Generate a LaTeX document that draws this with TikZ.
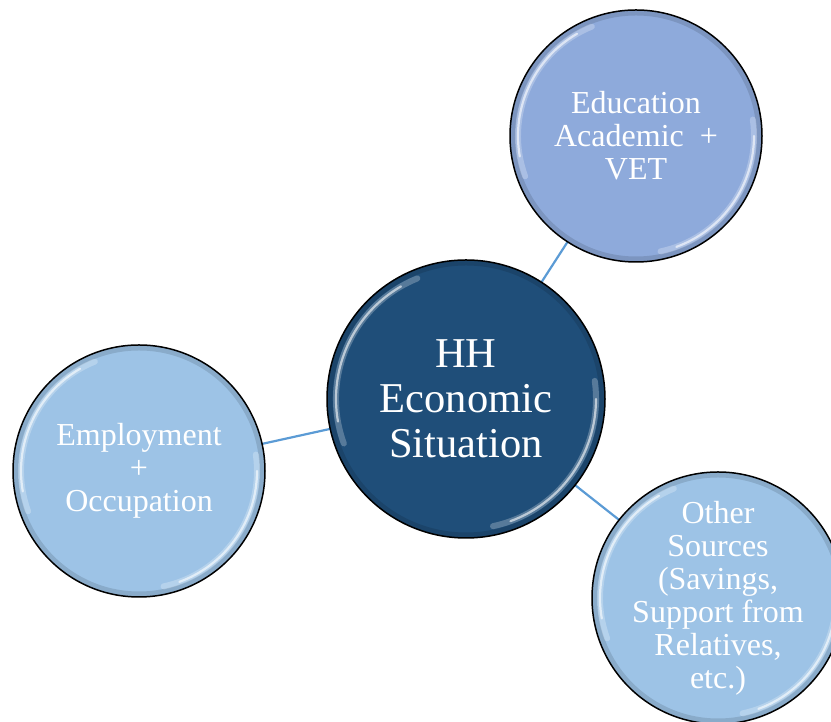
\documentclass[tikz,border=0pt]{standalone}
\usepackage{fontspec}
\setmainfont{Liberation Serif}
\usetikzlibrary{backgrounds}
\definecolor{darkfill}{RGB}{31,78,121}
\definecolor{edufill}{RGB}{142,170,219}
\definecolor{lightfill}{RGB}{157,195,230}
\definecolor{conn}{RGB}{91,155,213}
\begin{document}
\begin{tikzpicture}[x=1pt,y=1pt,
  bubble/.style={circle, draw=black, line width=1.5pt, inner sep=0pt},
  btext/.style={text=white, align=center, inner sep=0pt, font=\fontsize{32}{33}\selectfont},
  bigtext/.style={text=white, align=center, inner sep=0pt, font=\fontsize{42.5}{45}\selectfont},
  link/.style={draw=conn, line width=2.2pt},
  glosswide/.style={draw=white, line width=6pt, opacity=0.25, line cap=round},
  gloss/.style={draw=white, line width=2.2pt, opacity=0.6, line cap=round},
  rim/.style={draw=black, line width=5pt, opacity=0.12}]
\useasboundingbox (0,0) rectangle (831,722);
% circles
\node[bubble, fill=edufill, minimum size=252pt] (edu) at (636,586) {};
\node[bubble, fill=lightfill, minimum size=252pt] (emp) at (139,251) {};
\node[bubble, fill=lightfill, minimum size=252pt] (oth) at (718,124) {};
\node[bubble, fill=darkfill, minimum size=278pt] (hh) at (466,323) {};
% rim shading and gloss highlights
\foreach \c/\R/\r in {edu/123/118, emp/123/118, oth/123/118, hh/136/130}{
  \draw[rim] (\c.center) circle[radius=\R];
  \draw[glosswide] (\c.center) ++(112:\r) arc[start angle=112, end angle=200, radius=\r];
  \draw[glosswide] (\c.center) ++(-78:\r) arc[start angle=-78, end angle=8, radius=\r];
  \draw[gloss] (\c.center) ++(120:\r) arc[start angle=120, end angle=190, radius=\r];
  \draw[gloss] (\c.center) ++(-70:\r) arc[start angle=-70, end angle=0, radius=\r];
}
% texts
\node[btext] (edut) at (edu.center) {Education\\Academic \ +\\VET};
\node[btext] (empt) at (emp.center) {Employment\\+\\Occupation};
\node[btext] (otht) at (oth.center) {Other\\Sources\\(Savings,\\Support from\\Relatives,\\etc.)};
\node[bigtext] (hht) at (hh.center) {HH\\Economic\\Situation};
% connectors
\begin{scope}[on background layer]
\draw[link] (hh.center) -- (edu.center);
\draw[link] (hh.center) -- (emp.center);
\draw[link] (hh.center) -- (oth.center);
\end{scope}
\end{tikzpicture}
\end{document}
